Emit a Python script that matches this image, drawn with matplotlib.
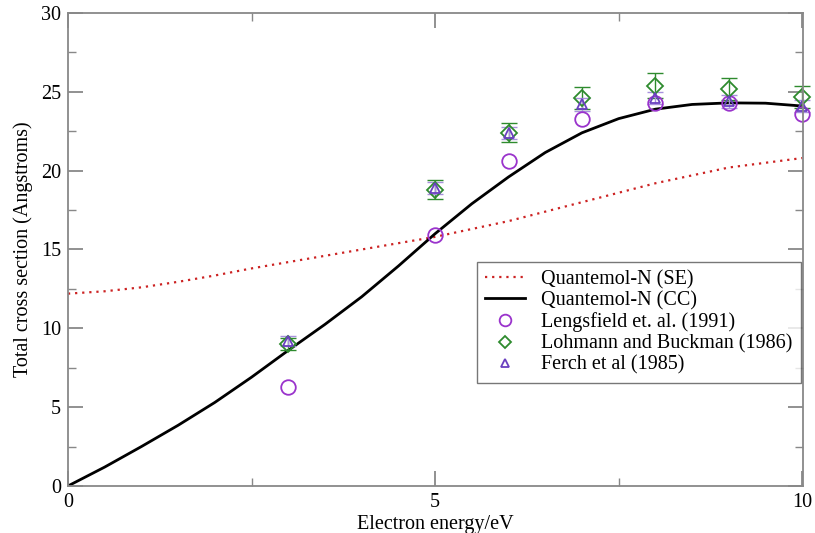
import matplotlib
matplotlib.use("Agg")
import matplotlib.pyplot as plt
from matplotlib.ticker import MultipleLocator

plt.rcParams["font.family"] = ["Liberation Serif", "DejaVu Serif"]

# model curves (read every 0.5 eV)
energy_model = [0, 0.5, 1, 1.5, 2, 2.5, 3, 3.5, 4, 4.5, 5,
                5.5, 6, 6.5, 7, 7.5, 8, 8.5, 9, 9.5, 10]
se_sigma = [12.2, 12.35, 12.6, 12.95, 13.35, 13.8, 14.2, 14.6, 15.0, 15.4, 15.8,
            16.3, 16.8, 17.4, 18.0, 18.6, 19.2, 19.7, 20.2, 20.5, 20.8]
cc_sigma = [0.0, 1.2, 2.5, 3.85, 5.3, 6.9, 8.6, 10.25, 12.0, 13.95, 16.0,
            17.9, 19.6, 21.15, 22.4, 23.3, 23.9, 24.2, 24.3, 24.28, 24.1]

# experiments
energy_exp = [3, 5, 6, 7, 8, 9, 10]
lengsfield = [6.3, 15.9, 20.6, 23.3, 24.3, 24.3, 23.6]
lohmann = [9.0, 18.8, 22.4, 24.6, 25.4, 25.2, 24.7]
lohmann_err = [0.4, 0.6, 0.6, 0.7, 0.8, 0.7, 0.7]
ferch = [9.2, 18.9, 22.4, 24.2, 24.6, 24.4, 24.1]
ferch_err = [0.3, 0.4, 0.4, 0.4, 0.4, 0.4, 0.4]

GREEN = "#2e8b2e"
VIOLET = "#6a40c0"
PURPLE = "#9a33cc"

fig = plt.figure(figsize=(8.15, 5.33), dpi=100)
ax = fig.add_axes([0.0834, 0.0882, 0.9018, 0.8874])

ax.plot(energy_model, se_sigma, color="#cc2222", ls=(0, (1, 2.2)), lw=1.6,
        label="Quantemol-N (SE)")
ax.plot(energy_model, cc_sigma, color="black", lw=2, label="Quantemol-N (CC)")

# error bars (no legend entries)
ax.errorbar(energy_exp, lohmann, yerr=lohmann_err, ls="none", ecolor=GREEN,
            elinewidth=1, capsize=6, clip_on=False)
ax.errorbar(energy_exp, ferch, yerr=ferch_err, ls="none", ecolor="#a890dd",
            elinewidth=1, capsize=6, clip_on=False)

ax.plot(energy_exp, lengsfield, ls="none", marker="o", ms=10.5, mfc="none",
        mec=PURPLE, mew=1.3, label="Lengsfield et. al. (1991)", clip_on=False)
ax.plot(energy_exp, lohmann, ls="none", marker="D", ms=8, mfc="none",
        mec=GREEN, mew=1.3, label="Lohmann and Buckman (1986)", clip_on=False)
ax.plot(energy_exp, ferch, ls="none", marker="^", ms=7.5, mfc="none",
        mec=VIOLET, mew=1.3, label="Ferch et al (1985)", clip_on=False)

ax.set_xlim(0, 10.01)
ax.set_ylim(0, 30)
ax.xaxis.set_major_locator(MultipleLocator(5))
ax.xaxis.set_minor_locator(MultipleLocator(2.5))
ax.yaxis.set_major_locator(MultipleLocator(5))
ax.yaxis.set_minor_locator(MultipleLocator(2.5))
ax.tick_params(which="both", direction="in", top=True, right=True,
               labelsize=14.5, color="#888888", pad=5)
ax.tick_params(which="major", length=11, width=1.3)
ax.tick_params(which="minor", length=6, width=1.0)
for sp in ax.spines.values():
    sp.set_color("#888888")
    sp.set_linewidth(1.3)

ax.set_xlabel("Electron energy/eV", fontsize=14.5, labelpad=2)
ax.set_ylabel("Total cross section (Angstroms)", fontsize=14.5, labelpad=6)

leg = ax.legend(loc="lower right", bbox_to_anchor=(0.997, 0.218), fontsize=14.5,
                frameon=True, fancybox=False, edgecolor="#555555",
                handlelength=2.0, handletextpad=0.8, labelspacing=0.1,
                borderpad=0.4, borderaxespad=0, markerscale=0.8)
leg.get_frame().set_linewidth(1.0)

fig.savefig("out.png", dpi=100)
